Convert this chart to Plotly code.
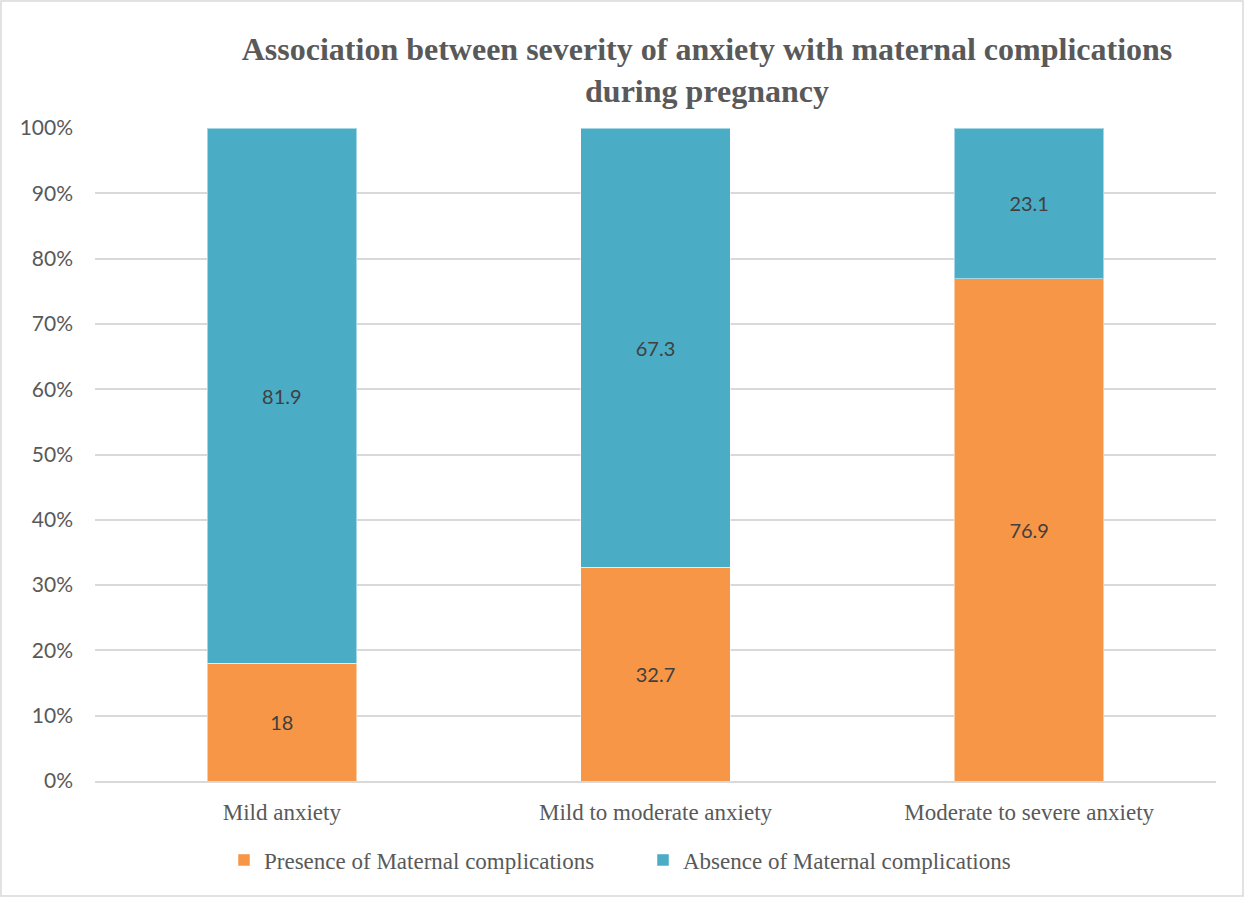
import plotly.graph_objects as go

categories = ["Mild anxiety", "Mild to moderate anxiety", "Moderate to severe anxiety"]
presence = [18, 32.7, 76.9]
absence = [81.9, 67.3, 23.1]

ORANGE = "#F79646"
BLUE = "#4BACC6"
GRAY = "#595959"

W, H = 1245, 898
L, R, T, B = 95, 29, 128, 117
pw, ph = W - L - R, H - T - B

fig = go.Figure()
fig.add_trace(go.Bar(
    name="Presence of Maternal complications", x=categories, y=presence,
    marker=dict(color=ORANGE, line=dict(color="rgba(255,255,255,0.5)", width=1)),
    text=presence, texttemplate="%{text}", textposition="inside",
    insidetextanchor="middle",
    textfont=dict(family="Lato, Open Sans, sans-serif", size=20, color="#404040"),
))
fig.add_trace(go.Bar(
    name="Absence of Maternal complications", x=categories, y=absence,
    marker=dict(color=BLUE, line=dict(color="rgba(255,255,255,0.5)", width=1)),
    text=absence, texttemplate="%{text}", textposition="inside",
    insidetextanchor="middle",
    textfont=dict(family="Lato, Open Sans, sans-serif", size=20, color="#404040"),
))

# outer chart border
fig.add_shape(type="rect", xref="paper", yref="paper",
              x0=(1 - L) / pw, x1=(W - 2 - L) / pw,
              y0=(H - B - (H - 2)) / ph, y1=(H - B - 1) / ph,
              line=dict(color="#d9d9d9", width=1.5), layer="below")

fig.update_layout(
    width=W, height=H,
    margin=dict(l=L, r=R, t=T, b=B),
    barmode="stack", barnorm="percent", bargap=0.6,
    plot_bgcolor="white", paper_bgcolor="white",
    title=dict(
        text="<b>Association between severity of anxiety with maternal complications<br>during pregnancy</b>",
        x=(707 - L) / pw, xref="paper", xanchor="center",
        y=1 - 60 / H, yanchor="top",
        font=dict(family="Liberation Serif, Times New Roman, serif", size=32, color=GRAY),
    ),
    yaxis=dict(
        range=[0, 100], dtick=10, ticksuffix="%",
        showgrid=True, gridcolor="#d9d9d9", gridwidth=1.5,
        zeroline=False, showline=False,
        tickfont=dict(family="Lato, Open Sans, sans-serif", size=21, color=GRAY),
        ticklabelstandoff=21,
    ),
    xaxis=dict(
        showgrid=False, showline=True, linecolor="#d9d9d9", linewidth=1.5,
        tickfont=dict(family="Liberation Serif, Times New Roman, serif", size=23, color=GRAY),
        ticklabelstandoff=10,
    ),
    legend=dict(
        orientation="h", x=(224 - L) / pw, xanchor="left",
        y=(H - B - 860) / ph, yanchor="middle",
        font=dict(family="Liberation Serif, Times New Roman, serif", size=23, color=GRAY),
        traceorder="normal", itemwidth=30,
        entrywidth=374, entrywidthmode="pixels",
    ),
    showlegend=True,
)

fig.write_html("out.html")
